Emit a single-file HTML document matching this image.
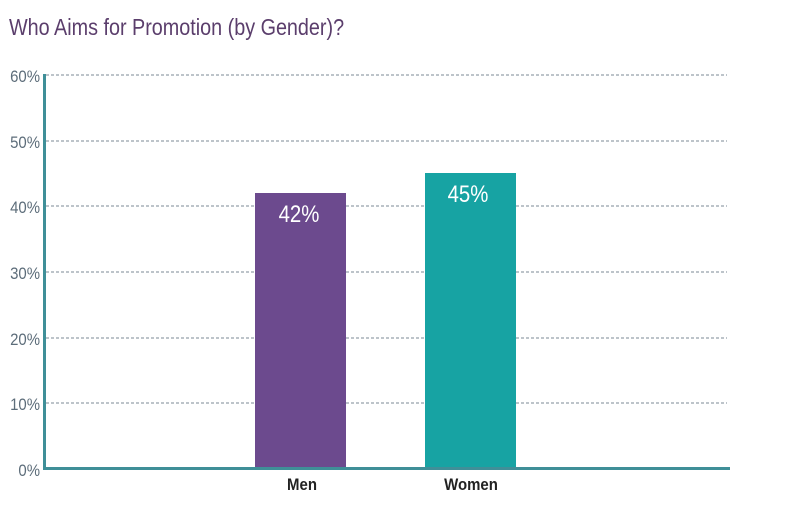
<!DOCTYPE html>
<html><head><style>
body{margin:0;background:#fff;}
svg text{font-family:"Liberation Sans",sans-serif;}
</style></head><body>
<svg width="787" height="507" xmlns="http://www.w3.org/2000/svg">
<text x="9" y="35" font-size="23" fill="#5b3e6c" transform="translate(9 35) scale(0.86 1) translate(-9 -35)">Who Aims for Promotion (by Gender)?</text>
<g stroke="#7b8a94" stroke-width="1" stroke-dasharray="3,2">
<line x1="46" y1="75" x2="727" y2="75"/>
<line x1="46" y1="141" x2="727" y2="141"/>
<line x1="46" y1="206" x2="727" y2="206"/>
<line x1="46" y1="272" x2="727" y2="272"/>
<line x1="46" y1="338" x2="727" y2="338"/>
<line x1="46" y1="403" x2="727" y2="403"/>
</g>
<g font-size="17" fill="#5d6d7a" text-anchor="end">
<text x="40" y="82" transform="translate(40 0) scale(0.88 1) translate(-40 0)">60%</text>
<text x="40" y="148" transform="translate(40 0) scale(0.88 1) translate(-40 0)">50%</text>
<text x="40" y="213" transform="translate(40 0) scale(0.88 1) translate(-40 0)">40%</text>
<text x="40" y="279" transform="translate(40 0) scale(0.88 1) translate(-40 0)">30%</text>
<text x="40" y="345" transform="translate(40 0) scale(0.88 1) translate(-40 0)">20%</text>
<text x="40" y="410" transform="translate(40 0) scale(0.88 1) translate(-40 0)">10%</text>
<text x="40" y="476" transform="translate(40 0) scale(0.88 1) translate(-40 0)">0%</text>
</g>
<rect x="255" y="193" width="91" height="276" fill="#6c4a8e"/>
<rect x="425" y="173" width="91" height="296" fill="#17a3a3"/>
<line x1="44.5" y1="74" x2="44.5" y2="470" stroke="#3f8f98" stroke-width="3"/>
<line x1="43" y1="468.5" x2="730" y2="468.5" stroke="#3f8f98" stroke-width="3"/>
<g font-size="24" fill="#fff" text-anchor="middle">
<text x="299" y="222" transform="translate(299 0) scale(0.85 1) translate(-299 0)">42%</text>
<text x="468" y="202" transform="translate(468 0) scale(0.85 1) translate(-468 0)">45%</text>
</g>
<g font-size="17" font-weight="bold" fill="#222" text-anchor="middle">
<text x="302" y="490" transform="translate(302 0) scale(0.88 1) translate(-302 0)">Men</text>
<text x="471" y="490" transform="translate(471 0) scale(0.88 1) translate(-471 0)">Women</text>
</g>
</svg>
</body></html>
